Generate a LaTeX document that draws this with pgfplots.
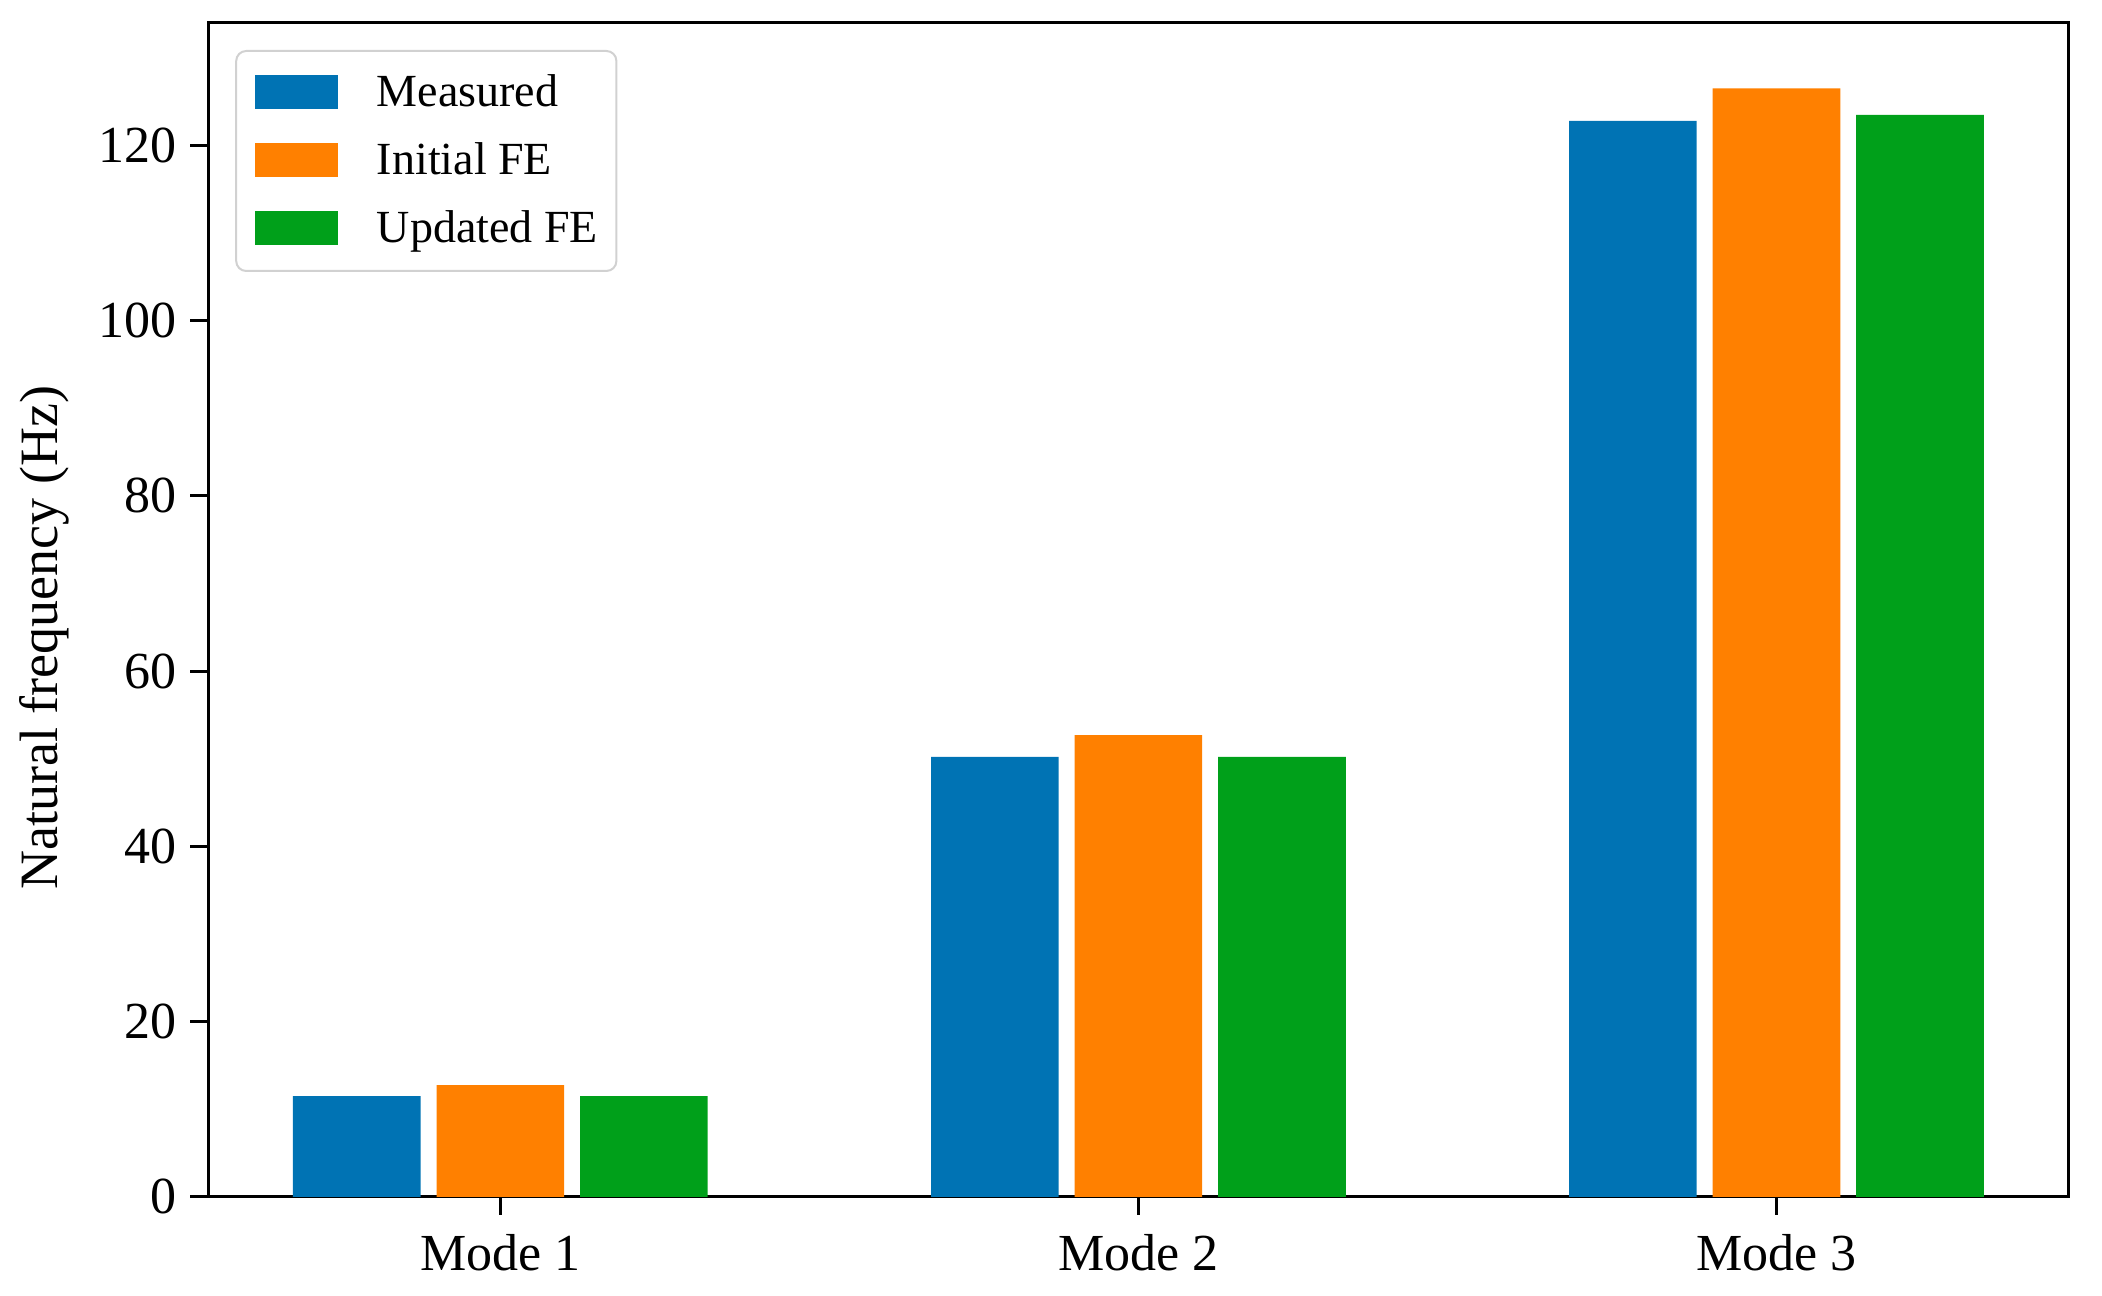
\documentclass[border=0pt]{standalone}
\usepackage{fontspec}
\setmainfont{Liberation Serif}
\usepackage{pgfplots}
\pgfplotsset{compat=1.18}
\definecolor{cblue}{RGB}{0,115,180}
\definecolor{corange}{RGB}{255,128,0}
\definecolor{cgreen}{RGB}{0,160,26}
\begin{document}
\begin{tikzpicture}
\useasboundingbox (-52.1pt,-24.6pt) rectangle (473.4pt,299.2pt);
\begin{axis}[
  scale only axis,
  width=465pt, height=293.5pt,
  xmin=-0.4575, xmax=2.4575,
  ymin=0, ymax=134,
  axis line style={line width=0.75pt, black},
  xtick={0,1,2},
  xticklabels={Mode 1, Mode 2, Mode 3},
  ytick={0,20,40,60,80,100,120},
  tick align=outside,
  tick pos=left,
  major tick length=4.5pt,
  every tick/.style={line width=0.75pt, black},
  /pgf/number format/assume math mode=true,
  ticklabel style={font=\fontsize{13}{15}\selectfont},
  xticklabel style={yshift=-1.3pt},
  ylabel={Natural frequency (Hz)},
  every axis y label/.style={at={(axis description cs:0,0.5)}, xshift=-41pt, yshift=-7pt, rotate=90, anchor=center, font=\fontsize{13.5}{16}\selectfont},
  legend style={at={(axis description cs:0,1)}, anchor=north west, xshift=6.7pt, yshift=-6.8pt,
    draw=black!18, line width=0.5pt, rounded corners=2.5pt, fill=white,
    inner xsep=4.6pt, inner ysep=5.95pt,
    column sep=9.7pt, row sep=7.9pt,
    nodes={inner sep=0pt, text height=8.05pt, text depth=1.05pt},
    font=\fontsize{11.5}{13}\selectfont},
  legend cell align=left,
]
\addplot[ybar, bar width=0.2, bar shift=-0.225, fill=cblue, draw=none,
  legend image code/.code={\fill[cblue, sharp corners] (0pt,-3.95pt) rectangle (20.9pt,4.55pt);}]
  coordinates {(0,11.5) (1,50.2) (2,122.8)};
\addlegendentry{Measured}
\addplot[ybar, bar width=0.2, bar shift=0, fill=corange, draw=none,
  legend image code/.code={\fill[corange, sharp corners] (0pt,-3.95pt) rectangle (20.9pt,4.55pt);}]
  coordinates {(0,12.75) (1,52.7) (2,126.5)};
\addlegendentry{Initial FE}
\addplot[ybar, bar width=0.2, bar shift=0.225, fill=cgreen, draw=none,
  legend image code/.code={\fill[cgreen, sharp corners] (0pt,-3.95pt) rectangle (20.9pt,4.55pt);}]
  coordinates {(0,11.5) (1,50.2) (2,123.5)};
\addlegendentry{Updated FE}
\end{axis}
\end{tikzpicture}
\end{document}
